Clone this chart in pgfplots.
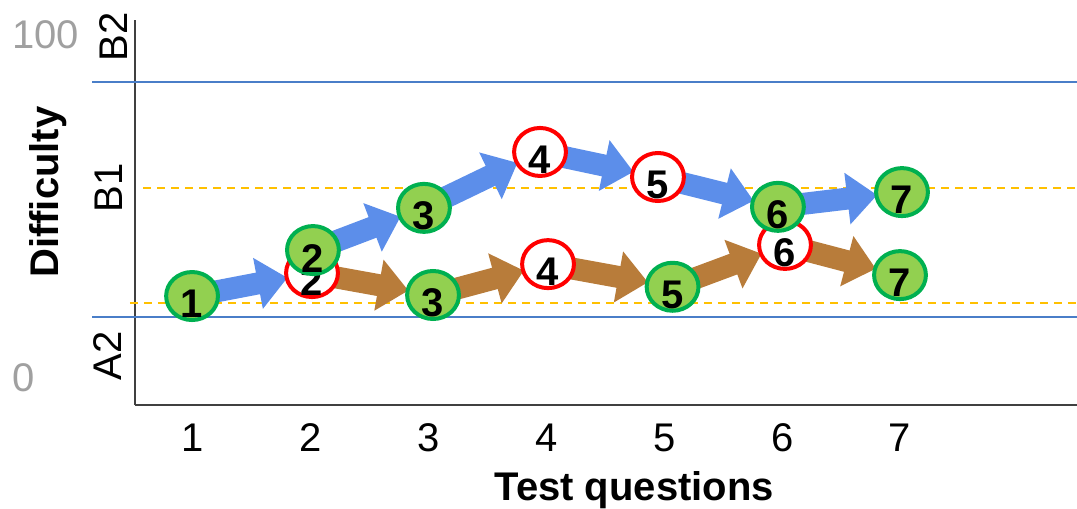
\documentclass[border=0pt]{standalone}
\usepackage{pgfplots}
\pgfplotsset{compat=1.18}
\usepackage{pgfplotstable}
\usepackage{fontspec}
\setmainfont{Liberation Sans}
\usetikzlibrary{arrows.meta}
\definecolor{refblue}{RGB}{74,126,200}
\definecolor{dashyel}{RGB}{255,192,0}
\definecolor{cgreen}{RGB}{146,208,80}
\definecolor{cgreenb}{RGB}{0,176,80}
\definecolor{cred}{RGB}{255,0,0}
\definecolor{arrblue}{RGB}{92,142,234}
\definecolor{arrbrown}{RGB}{184,124,58}
\definecolor{ticgray}{RGB}{160,160,160}

% blue (upper path) arrows: start x y, displacement u v
\pgfplotstableread{
x     y    u      v
0.992 23.9 1.018  6.7
2.018 37.3 0.942  12.3
2.960 49.6 0.985  16.3
3.945 65.9 1.001  -7.3
4.946 58.6 1.018  -8.7
5.964 49.9 1.053  4.3
}\bluearrows

% brown (lower path) arrows
\pgfplotstableread{
x     y    u      v
2.010 30.6 1.027  -6.4
3.037 24.2 0.976  9.0
4.013 33.2 1.057  -6.6
5.070 26.6 0.954  12.2
6.024 38.8 0.976  -8.8
}\brownarrows

% wrong answers (red rings)
\pgfplotstableread{
x     y    label
3.945 65.9 4
4.946 58.6 5
2.010 30.6 2
4.013 33.2 4
6.024 38.8 6
}\wrongpts

% right answers (green discs)
\pgfplotstableread{
x     y    label
0.992 23.9 1
2.018 37.3 2
2.960 49.6 3
5.964 49.9 6
7.017 54.2 7
3.037 24.2 3
5.070 26.6 5
7.000 30.0 7
}\rightpts

\begin{document}
\begin{tikzpicture}[font=\fontsize{20}{24}\selectfont]
\begin{axis}[
  scale only axis, width=471pt, height=192.5pt,
  xmin=0.5078, xmax=8.502, ymin=-7.87, ymax=104.37,
  axis lines=left,
  axis line style={-, line width=1pt, black!75},
  clip=false,
  xtick={1,...,7}, ytick={0,100},
  major tick length=0pt,
  tick label style={font=\fontsize{20}{24}\selectfont},
  /pgf/number format/assume math mode=true,
  xticklabel style={yshift=-6pt},
  yticklabel style={anchor=west, inner sep=0pt, xshift=-61.5pt, text=ticgray},
  xlabel={\textbf{Test questions}},
  xlabel style={at={(axis description cs:0.53,0)}, anchor=base, yshift=-47.5pt},
  ylabel={\textbf{Difficulty}},
  ylabel style={at={(axis description cs:-0.0817,0.553)}, anchor=base},
]
% level boundaries
\addplot[refblue, line width=1pt, no marks] coordinates {(0.143,86.4) (8.502,86.4)};
\addplot[refblue, line width=1pt, no marks] coordinates {(0.143,17.9) (8.502,17.9)};
\addplot[dashyel, line width=1pt, dash pattern=on 4pt off 3pt, no marks] coordinates {(0.576,55.3) (8.502,55.3)};
\addplot[dashyel, line width=1pt, dash pattern=on 4pt off 3pt, no marks] coordinates {(0.465,21.9) (8.502,21.9)};

% arrows
\addplot[quiver={u=\thisrow{u}, v=\thisrow{v}}, no marks, draw=arrblue, line width=11pt,
  -{Triangle[length=15pt,width=25pt]}, shorten <=12pt, shorten >=12.5pt] table {\bluearrows};
\addplot[quiver={u=\thisrow{u}, v=\thisrow{v}}, no marks, draw=arrbrown, line width=11pt,
  -{Triangle[length=15pt,width=25pt]}, shorten <=12pt, shorten >=12.5pt] table {\brownarrows};

% answers
\addplot[only marks, mark=*, mark size=12pt,
  mark options={fill=white, draw=cred, line width=2pt, xscale=1.08},
  nodes near coords, point meta=explicit symbolic, nodes near coords align=center,
  every node near coord/.append style={font=\bfseries\fontsize{20}{24}\selectfont, text=black, yshift=-4pt}]
  table[meta=label] {\wrongpts};
\addplot[only marks, mark=*, mark size=12pt,
  mark options={fill=cgreen, draw=cgreenb, line width=2pt, xscale=1.08},
  nodes near coords, point meta=explicit symbolic, nodes near coords align=center,
  every node near coord/.append style={font=\bfseries\fontsize{20}{24}\selectfont, text=black, yshift=-4pt}]
  table[meta=label] {\rightpts};

% CEFR levels
\node[rotate=90, anchor=base] at (axis cs:0.440,99.4) {B2};
\node[rotate=90, anchor=base] at (axis cs:0.398,55.4) {B1};
\node[rotate=90, anchor=base] at (axis cs:0.390,6.4) {A2};
\end{axis}
\pgfresetboundingbox
\path[use as bounding box] (-67.5pt,-52pt) rectangle (471pt,202.5pt);
\end{tikzpicture}
\end{document}
